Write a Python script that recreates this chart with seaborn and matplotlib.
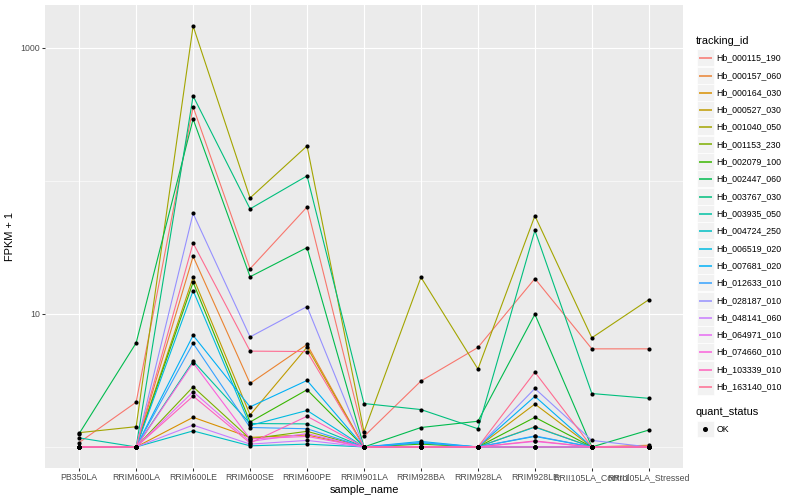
import numpy as np
import pandas as pd
import matplotlib
matplotlib.use('Agg')
import matplotlib.pyplot as plt
import seaborn as sns
from matplotlib.patches import Rectangle
from matplotlib.lines import Line2D

plt.rcParams['font.family'] = ['Liberation Sans', 'DejaVu Sans']

# samples along the x axis
samples = ['PB350LA', 'RRIM600LA', 'RRIM600LE', 'RRIM600SE', 'RRIM600PE',
           'RRIM901LA', 'RRIM928BA', 'RRIM928LA', 'RRIM928LE',
           'RRII105LA_Control', 'RRII105LA_Stressed']

tracking_ids = ['Hb_000115_190', 'Hb_000157_060', 'Hb_000164_030', 'Hb_000527_030',
                'Hb_001040_050', 'Hb_001153_230', 'Hb_002079_100', 'Hb_002447_060',
                'Hb_003767_030', 'Hb_003935_050', 'Hb_004724_250', 'Hb_006519_020',
                'Hb_007681_020', 'Hb_012633_010', 'Hb_028187_010', 'Hb_048141_060',
                'Hb_064971_010', 'Hb_074660_010', 'Hb_103339_010', 'Hb_163140_010']

# FPKM per gene, one value per sample
fpkm_000115_190 = [0.08, 1.17, 357.9, 20.83, 62.53, 0.20, 2.13, 4.59, 17.41, 4.46, 4.46]
fpkm_000157_060 = [0.0, 0.0, 26.04, 2.00, 4.89, 0.0, 0.0, 0.0, 0.42, 0.0, 0.03]
fpkm_000164_030 = [0.0, 0.0, 0.67, 0.18, 0.23, 0.0, 0.0, 0.0, 0.0, 0.0, 0.0]
fpkm_000527_030 = [0.0, 0.0, 17.84, 0.74, 4.62, 0.0, 0.0, 0.0, 1.10, 0.0, 0.0]
fpkm_001040_050 = [0.28, 0.42, 1454.0, 73.3, 181.8, 0.30, 17.84, 2.85, 53.58, 5.61, 11.79]
fpkm_001153_230 = [0.0, 0.0, 1.83, 0.15, 0.31, 0.0, 0.0, 0.0, 0.0, 0.0, 0.0]
fpkm_002079_100 = [0.0, 0.0, 16.26, 0.54, 1.69, 0.0, 0.05, 0.0, 0.67, 0.0, 0.0]
fpkm_002447_060 = [0.26, 5.05, 290.1, 18.01, 30.48, 0.0, 0.40, 0.56, 8.93, 0.0, 0.34]
fpkm_003767_030 = [0.0, 0.0, 432.5, 60.52, 107.9, 1.12, 0.91, 0.37, 41.36, 1.52, 1.32]
fpkm_003935_050 = [0.17, 0.0, 3.42, 0.50, 0.49, 0.0, 0.0, 0.0, 0.0, 0.0, 0.0]
fpkm_004724_250 = [0.0, 0.0, 0.32, 0.02, 0.05, 0.0, 0.0, 0.0, 0.41, 0.0, 0.0]
fpkm_006519_020 = [0.0, 0.0, 13.96, 0.45, 0.88, 0.0, 0.07, 0.0, 0.20, 0.0, 0.0]
fpkm_007681_020 = [0.0, 0.0, 5.90, 1.00, 2.16, 0.0, 0.10, 0.0, 1.40, 0.0, 0.0]
fpkm_012633_010 = [0.0, 0.0, 5.01, 0.40, 0.37, 0.0, 0.08, 0.0, 0.21, 0.0, 0.0]
fpkm_028187_010 = [0.0, 0.0, 55.89, 5.71, 10.35, 0.0, 0.0, 0.0, 1.75, 0.12, 0.0]
fpkm_048141_060 = [0.0, 0.0, 0.46, 0.05, 0.12, 0.0, 0.0, 0.0, 0.0, 0.0, 0.0]
fpkm_064971_010 = [0.0, 0.0, 1.60, 0.10, 0.26, 0.0, 0.0, 0.0, 0.10, 0.0, 0.0]
fpkm_074660_010 = [0.0, 0.0, 3.29, 0.15, 0.20, 0.0, 0.0, 0.0, 0.0, 0.0, 0.0]
fpkm_103339_010 = [0.0, 0.0, 1.41, 0.07, 0.70, 0.0, 0.0, 0.0, 0.11, 0.0, 0.0]
fpkm_163140_010 = [0.0, 0.0, 33.04, 4.25, 4.21, 0.0, 0.0, 0.0, 2.65, 0.0, 0.0]

fpkm_rows = [fpkm_000115_190, fpkm_000157_060, fpkm_000164_030, fpkm_000527_030,
             fpkm_001040_050, fpkm_001153_230, fpkm_002079_100, fpkm_002447_060,
             fpkm_003767_030, fpkm_003935_050, fpkm_004724_250, fpkm_006519_020,
             fpkm_007681_020, fpkm_012633_010, fpkm_028187_010, fpkm_048141_060,
             fpkm_064971_010, fpkm_074660_010, fpkm_103339_010, fpkm_163140_010]

# ggplot default hue palette for 20 levels
palette = ['#F8766D', '#EA8331', '#D89000', '#C09B00', '#A3A500', '#7CAE00', '#39B600',
           '#00BB4E', '#00BF7D', '#00C1A3', '#00BFC4', '#00BAE0', '#00B0F6', '#35A2FF',
           '#9590FF', '#C77CFF', '#E76BF3', '#FA62DB', '#FF62BC', '#FF6C91']

records = []
for tid, row in zip(tracking_ids, fpkm_rows):
    for s, v in zip(samples, row):
        records.append({'tracking_id': tid, 'sample_name': s, 'fpkm': v})
df = pd.DataFrame(records)
df['fpkm1'] = df['fpkm'] + 1

W, H = 800, 500
fig = plt.figure(figsize=(8, 5), dpi=100)
px_l, px_r, px_t, px_b = 45, 683, 5, 468
ax = fig.add_axes([px_l / W, 1 - px_b / H, (px_r - px_l) / W, (px_b - px_t) / H])
ax.set_facecolor('#EBEBEB')

sns.lineplot(data=df, x='sample_name', y='fpkm1', hue='tracking_id',
             hue_order=tracking_ids, palette=palette, estimator=None, sort=False,
             linewidth=0.8, legend=False, ax=ax, zorder=2)
sns.scatterplot(data=df, x='sample_name', y='fpkm1', color='black', s=9,
                linewidth=0, legend=False, ax=ax, zorder=3)

ax.set_yscale('log')
lo, hi = np.log10(df['fpkm1'].min()), np.log10(df['fpkm1'].max())
pad = 0.05 * (hi - lo)
ax.set_ylim(10 ** (lo - pad), 10 ** (hi + pad))
ax.set_xlim(-0.6, len(samples) - 0.4)

ax.set_yticks([10, 1000])
ax.set_yticklabels(['10', '1000'])
ax.set_yticks([1, 100], minor=True)
ax.yaxis.set_minor_formatter(plt.NullFormatter())
ax.tick_params(axis='y', which='minor', length=0)
ax.tick_params(axis='both', which='major', length=2, width=0.75, color='#333333',
               labelsize=6.3, labelcolor='#4D4D4D', pad=1.6)

ax.grid(True, which='major', color='white', linewidth=0.8)
ax.grid(True, which='minor', axis='y', color='white', linewidth=0.4)
ax.set_axisbelow(True)
for sp in ax.spines.values():
    sp.set_visible(False)

ax.set_xlabel('sample_name', fontsize=7.9, labelpad=2)
ax.set_ylabel('FPKM + 1', fontsize=7.9, labelpad=4)

# legend drawn in the ggplot style on the right
def fx(px):
    return px / W

def fy(py):
    return 1 - py / H

fig.text(fx(696), fy(40.7), 'tracking_id', fontsize=7.9, va='center', ha='left')
for i, (tid, col) in enumerate(zip(tracking_ids, palette)):
    cy = round(57.3 + 17.3 * i) + 0.5
    fig.patches.append(Rectangle((fx(697), fy(cy + 8.3)), 16.6 / W, 16.6 / H,
                                 transform=fig.transFigure, facecolor='#F2F2F2',
                                 edgecolor='white', linewidth=0.5, zorder=1))
    fig.lines.append(Line2D([fx(699), fx(711.5)], [fy(cy), fy(cy)],
                            transform=fig.transFigure, color=col, linewidth=1.1,
                            solid_capstyle='butt', zorder=3))
    fig.text(fx(716.5), fy(cy), tid, fontsize=6.3, va='center', ha='left')

fig.text(fx(696), fy(412.3), 'quant_status', fontsize=7.9, va='center', ha='left')
fig.patches.append(Rectangle((fx(697), fy(429 + 8.3)), 16.6 / W, 16.6 / H,
                             transform=fig.transFigure, facecolor='#F2F2F2',
                             edgecolor='white', linewidth=0.5, zorder=1))
fig.lines.append(Line2D([fx(705.3)], [fy(429)], transform=fig.transFigure,
                        color='black', marker='o', markersize=2.6, linestyle='none',
                        zorder=3))
fig.text(fx(716.5), fy(429), 'OK', fontsize=6.3, va='center', ha='left')

fig.savefig('out.png', dpi=100)
